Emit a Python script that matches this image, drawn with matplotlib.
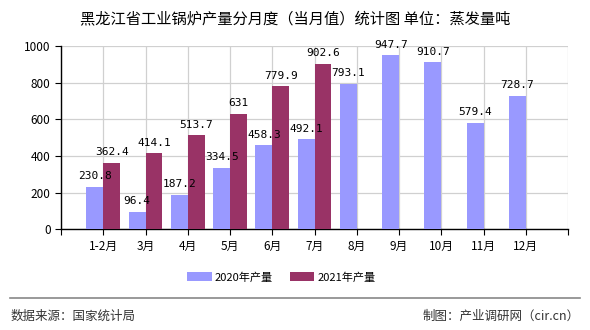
import numpy as np
import matplotlib.pyplot as plt
from matplotlib.lines import Line2D

plt.rcParams['font.family'] = ['Noto Sans CJK SC', 'DejaVu Sans']

# 데이터
months = ['1-2月', '3月', '4月', '5月', '6月', '7月', '8月', '9月', '10月', '11月', '12月']
vals_2020 = [230.8, 96.4, 187.2, 334.5, 458.3, 492.1, 793.1, 947.7, 910.7, 579.4, 728.7]
vals_2021 = [362.4, 414.1, 513.7, 631, 779.9, 902.6]
labels_2021 = ['362.4', '414.1', '513.7', '631', '779.9', '902.6']

c2020 = '#9999FF'
c2021 = '#993366'

fig = plt.figure(figsize=(5.9, 3.3), dpi=100)
ax = fig.add_axes([0.1034, 0.305, 0.8596, 0.556])

x = np.arange(1, len(months) + 1)
w = 0.4
b1 = ax.bar(x - w / 2, vals_2020, width=w, color=c2020, zorder=3, label='2020年产量')
b2 = ax.bar(x[:len(vals_2021)] + w / 2, vals_2021, width=w, color=c2021, zorder=3, label='2021年产量')

for rect, v in zip(b1, vals_2020):
    ax.annotate(f'{v}', (rect.get_x() + rect.get_width() / 2, v), xytext=(0, 4),
                textcoords='offset points', ha='center', va='bottom', fontsize=8,
                family=['DejaVu Sans Mono'], zorder=4)
for rect, v, s in zip(b2, vals_2021, labels_2021):
    ax.annotate(s, (rect.get_x() + rect.get_width() / 2, v), xytext=(0, 4),
                textcoords='offset points', ha='center', va='bottom', fontsize=8,
                family=['DejaVu Sans Mono'], zorder=4)

ax.set_xlim(0, 12)
ax.set_ylim(0, 1000)
ax.set_yticks(np.arange(0, 1001, 200))
ax.set_xticks(np.arange(0, 13))
ax.set_xticklabels([''] + months + [''])
ax.tick_params(axis='both', labelsize=8.5, direction='out', length=4, color='black')
ax.grid(True, color='#d0d0d0', linewidth=0.9, zorder=0)
ax.spines['top'].set_visible(False)
ax.spines['right'].set_visible(False)
ax.spines['left'].set_linewidth(1.0)
ax.spines['bottom'].set_linewidth(1.0)

fig.text(0.5, 0.943, '黑龙江省工业锅炉产量分月度（当月值）统计图 单位：蒸发量吨',
         ha='center', va='center', fontsize=11)

fig.legend(handles=[b1, b2], loc='center', bbox_to_anchor=(0.477, 0.16), ncol=2,
           frameon=False, fontsize=8, handlelength=2.2, handleheight=0.9,
           columnspacing=1.5, handletextpad=0.3)

fig.add_artist(Line2D([0.017, 0.983], [0.097, 0.097], color='#888888', linewidth=1.2))
fig.text(0.017, 0.042, '数据来源：国家统计局', ha='left', va='center', fontsize=9, color='#333333')
fig.text(0.983, 0.042, '制图：产业调研网（cir.cn）', ha='right', va='center', fontsize=9, color='#333333')

fig.savefig('out.png', dpi=100)
